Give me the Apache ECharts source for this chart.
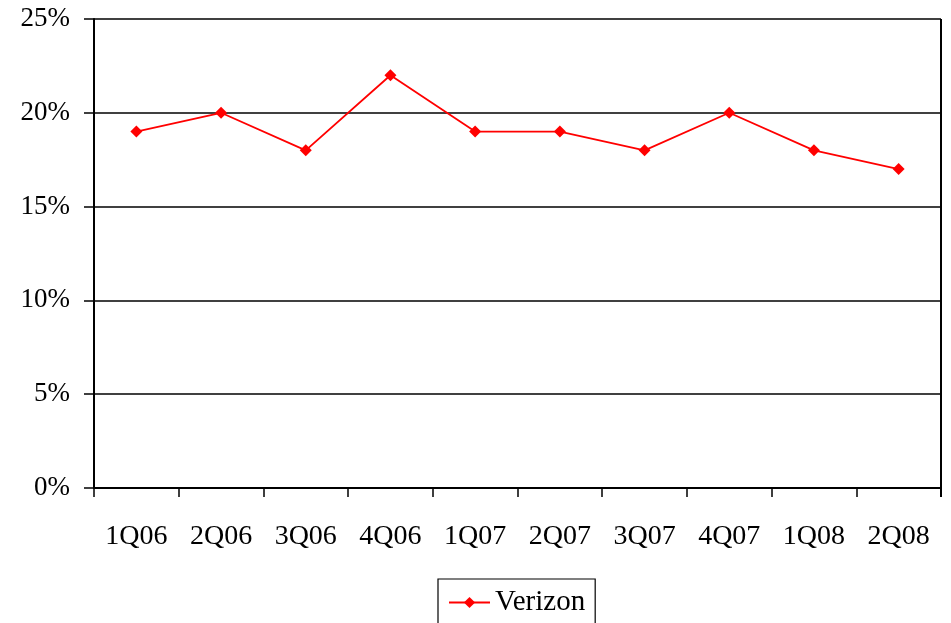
<!DOCTYPE html>
<html>
<head>
<meta charset="utf-8">
<script src="https://cdn.jsdelivr.net/npm/echarts@6/dist/echarts.min.js"></script>
<style>html,body{margin:0;padding:0;background:#fff;}#c{width:951px;height:623px;}</style>
</head>
<body>
<div id="c"></div>
<script>
var categories = ['1Q06','2Q06','3Q06','4Q06','1Q07','2Q07','3Q07','4Q07','1Q08','2Q08'];
var verizon = [19, 20, 18, 22, 19, 19, 18, 20, 18, 17];
var seriesName = 'Verizon';
var yTicks = {min: 0, max: 25, interval: 5};

var font = 'Liberation Serif';
var chart = echarts.init(document.getElementById('c'), null, {renderer: 'canvas'});
chart.setOption({
  animation: false,
  backgroundColor: '#fff',
  grid: {left: 94, right: 10, top: 19, bottom: 135, show: true, borderColor: '#000', borderWidth: 0},
  xAxis: {
    type: 'category',
    data: categories,
    boundaryGap: true,
    axisLine: {lineStyle: {color: '#000', width: 2}},
    axisTick: {show: true, length: 9, lineStyle: {color: '#000', width: 1.5}, alignWithLabel: false},
    axisLabel: {color: '#000', fontFamily: font, fontSize: 28, margin: 35}
  },
  yAxis: {
    type: 'value',
    min: yTicks.min, max: yTicks.max, interval: yTicks.interval,
    axisLine: {show: true, lineStyle: {color: '#000', width: 2}},
    axisTick: {show: true, length: 10, lineStyle: {color: '#000', width: 1.5}},
    splitLine: {show: true, lineStyle: {color: '#000', width: 1.5}},
    axisLabel: {color: '#000', fontFamily: font, fontSize: 27, margin: 24, formatter: '{value}%'}
  },
  legend: {
    show: true,
    left: 438, top: 579,
    padding: [9, 10, 9, 10],
    borderColor: '#000', borderWidth: 1.2,
    itemWidth: 41, itemHeight: 14, itemGap: 6,
    textStyle: {color: '#000', fontFamily: font, fontSize: 29},
    data: [seriesName]
  },
  series: [{
    name: seriesName,
    type: 'line',
    data: verizon,
    color: '#ff0000',
    lineStyle: {color: '#ff0000', width: 1.8},
    symbol: 'diamond',
    symbolSize: 12,
    itemStyle: {color: '#ff0000'}
  }],
  graphic: [{
    type: 'line',
    shape: {x1: 941, y1: 19, x2: 941, y2: 497},
    style: {stroke: '#000', lineWidth: 2}
  }]
});
</script>
</body>
</html>
